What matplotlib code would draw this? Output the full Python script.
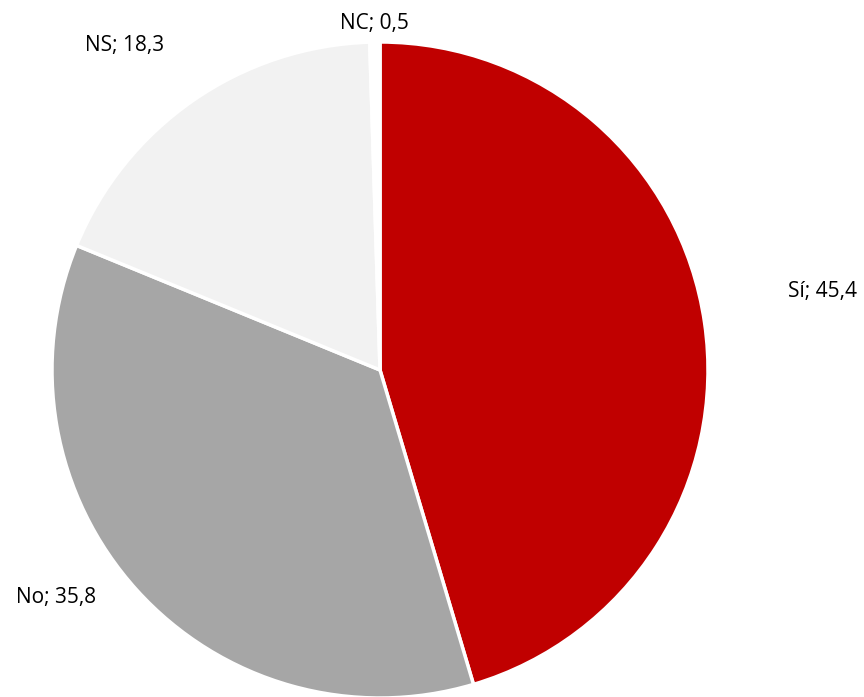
import matplotlib
matplotlib.use("Agg")
import matplotlib.pyplot as plt

categories = ["Sí", "No", "NS", "NC"]
values = [45.4, 35.8, 18.3, 0.5]
colors = ["#C00000", "#A6A6A6", "#F2F2F2", "#FFFFFF"]
label_texts = ["Sí; 45,4", "No; 35,8", "NS; 18,3", "NC; 0,5"]
# label positions in pixels (x, y from top)
label_pos = [(822, 292), (56, 598), (125, 45), (374, 24)]

W, H = 864, 697
fig = plt.figure(figsize=(W / 100, H / 100), dpi=100)
fig.patch.set_facecolor("white")

cx, cy, r = 380, 370, 328
ax = fig.add_axes([(cx - r) / W, (H - cy - r) / H, 2 * r / W, 2 * r / H])
ax.pie(values, colors=colors, startangle=90, counterclock=False,
       wedgeprops=dict(edgecolor="white", linewidth=2.5))
ax.set_xlim(-1, 1)
ax.set_ylim(-1, 1)
ax.set_aspect("equal")
ax.axis("off")

for t, (x, y) in zip(label_texts, label_pos):
    fig.text(x / W, 1 - y / H, t, ha="center", va="center",
             fontsize=15, family=["Open Sans", "DejaVu Sans"], color="#000000")

fig.savefig("out.png", dpi=100, facecolor="white")
